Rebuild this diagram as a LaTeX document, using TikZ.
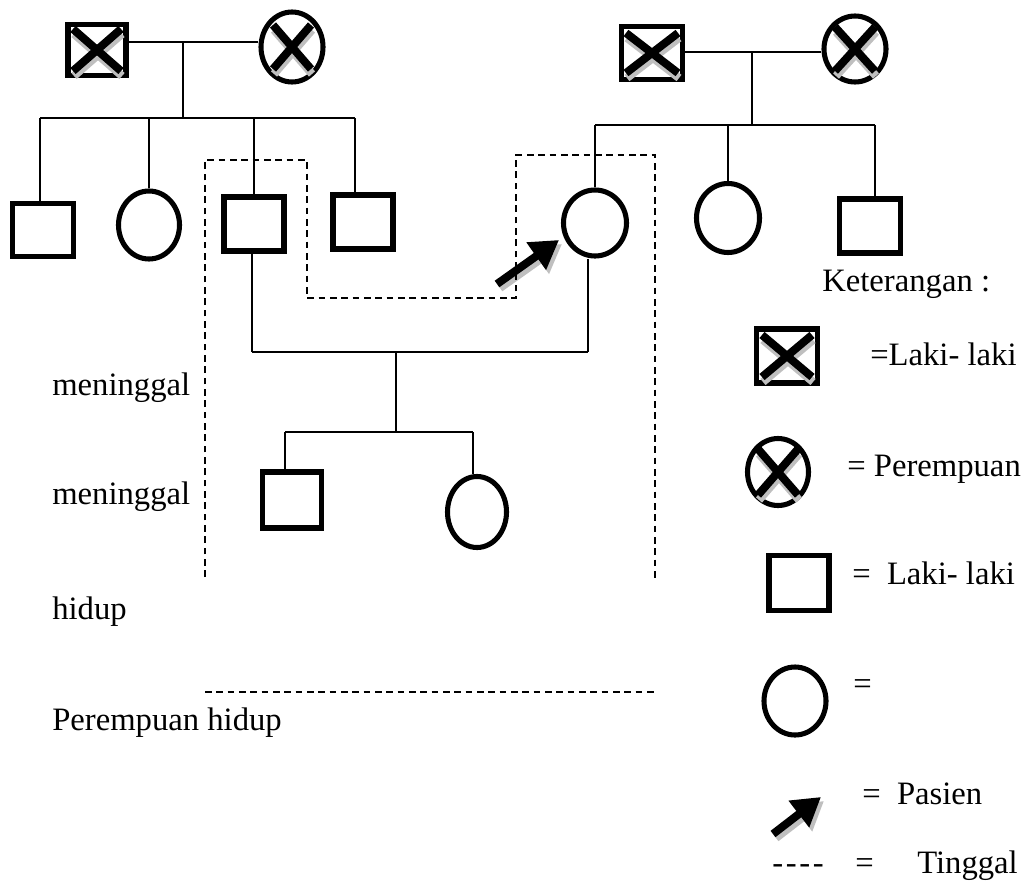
\documentclass[tikz,border=0pt]{standalone}
\usepackage{fontspec}
\setmainfont{Liberation Serif}
\usetikzlibrary{arrows.meta,shapes.geometric,calc}
\newcommand\pedX[3]{%
  \draw[gray!50, line width=6pt] ($(#1)+(-#2+1,-#3+5)$) -- ($(#1)+(#2+1,#3+5)$) ($(#1)+(#2+1,-#3+5)$) -- ($(#1)+(-#2+1,#3+5)$);
  \draw[black, line width=6pt] ($(#1)+(-#2,-#3)$) -- ($(#1)+(#2,#3)$) ($(#1)+(#2,-#3)$) -- ($(#1)+(-#2,#3)$);}
\newcommand\pedArrow[2]{%
  \draw[gray!50, line width=6pt, -{Triangle[length=21pt,width=24pt]}] ($(#1)+(3,4)$) -- ($(#2)+(3,4)$);
  \draw[black, line width=6pt, -{Triangle[length=21pt,width=24pt]}] (#1) -- (#2);}
\begin{document}
\begin{tikzpicture}[x=0.75pt,y=-0.75pt,
  link/.style={line width=1.2pt},
  dashline/.style={line width=1.1pt, dash pattern=on 5pt off 3.5pt},
  sq/.style 2 args={draw, rectangle, line width=3.8pt, inner sep=0pt, minimum width=#1*0.75pt, minimum height=#2*0.75pt},
  circ/.style 2 args={draw, ellipse, line width=3.8pt, inner sep=0pt, minimum width=#1*0.75pt, minimum height=#2*0.75pt},
  lbl/.style={anchor=base west, inner sep=0pt, font=\fontsize{24.5}{29}\selectfont}
]
\useasboundingbox (0,0) rectangle (1024,885);

% ---------- left family ----------
\node[sq={58}{51}] (gf1) at (97,50) {};
\node[circ={62}{70}] (gm1) at (292,47) {};
\pedX{gf1}{24}{21}
\pedX{gm1}{19}{22}
\coordinate (m1) at (183,42);
\coordinate (s1) at (183,118);
\coordinate (s1L) at (40,118);
\coordinate (s1R) at (355,118);
\draw[link] (gf1.east |- m1) -- (gm1.west |- m1);
\draw[link] (m1) -- (s1);
\draw[link] (s1L) -- (s1R);

\node[sq={61}{53}] (c11) at (43,230) {};
\node[circ={61}{68}] (c12) at (149,225) {};
\node[sq={60}{54}] (c13) at (254,224) {};
\node[sq={60}{54}] (c14) at (363,222) {};
\draw[link] (s1L) -- (s1L |- c11.north);
\draw[link] (c12.north |- s1) -- (c12.north);
\draw[link] (c13.north |- s1) -- (c13.north);
\draw[link] (s1R) -- (s1R |- c14.north);

% ---------- right family ----------
\node[sq={61}{53}] (gf2) at (652,53) {};
\node[circ={62}{66}] (gm2) at (855,49) {};
\pedX{gf2}{26}{20}
\pedX{gm2}{20}{22}
\coordinate (m2) at (752,52);
\coordinate (s2) at (752,125);
\coordinate (s2L) at (595,125);
\coordinate (s2R) at (875,125);
\draw[link] (gf2.east |- m2) -- (gm2.west |- m2);
\draw[link] (m2) -- (s2);
\draw[link] (s2L) -- (s2R);

\node[circ={63}{66}] (pt) at (595,223) {};
\node[circ={63}{69}] (c22) at (728,218) {};
\node[sq={61}{54}] (c23) at (870,226) {};
\draw[link] (s2L) -- (pt.north);
\draw[link] (c22.north |- s2) -- (c22.north);
\draw[link] (s2R) -- (s2R |- c23.north);

% ---------- couple and children ----------
\coordinate (cpL) at (252,352);
\coordinate (cpR) at (588,352);
\coordinate (cpM) at (396,352);
\coordinate (s3) at (396,432);
\coordinate (s3L) at (285,432);
\coordinate (s3R) at (473,432);
\draw[link] (c13.south -| cpL) -- (cpL);
\draw[link] (pt.south -| cpR) -- (cpR);
\draw[link] (cpL) -- (cpR);
\draw[link] (cpM) -- (s3);
\draw[link] (s3L) -- (s3R);
\node[sq={59}{56}] (g1) at (292,500) {};
\node[circ={59}{71}] (g2) at (477,512) {};
\draw[link] (s3L) -- (s3L |- g1.north);
\draw[link] (s3R) -- (s3R |- g2.north);

% patient arrow
\coordinate (a1t) at (497,284);
\coordinate (a1h) at (559,240);
\pedArrow{a1t}{a1h}

% dashed household boundary
\draw[dashline] (205,577) -- (205,160) -- (307,160) -- (307,298) -- (516,298) -- (516,155) -- (655,155) -- (655,582);
\draw[dashline] (205,692) -- (655,692);

% left labels
\node[lbl] (t1) at (52,395) {meninggal};
\node[lbl] (t2) at (52,504) {meninggal};
\node[lbl] (t3) at (52,619) {hidup};
\node[lbl] (t4) at (52,730) {Perempuan hidup};

% ---------- legend ----------
\node[lbl] (kt) at (822,291) {Keterangan :};
\node[sq={61}{54}] (lg1) at (787,356) {};
\pedX{lg1}{25}{21}
\node[lbl] (lt1) at (870,365) {=Laki- laki};
\node[circ={61}{67}] (lg2) at (778,472) {};
\pedX{lg2}{20}{23}
\node[lbl] (lt2) at (847,476) {= Perempuan};
\node[sq={60}{55}] (lg3) at (799,583) {};
\node[lbl] (lt3) at (852,584) {=\ \ Laki- laki};
\node[circ={62}{68}] (lg4) at (795,701) {};
\node[lbl] (lt4) at (853,694) {=};
\coordinate (a2t) at (773,834);
\coordinate (a2h) at (821,797);
\pedArrow{a2t}{a2h}
\node[lbl] (lt5) at (862,804) {=\ \ Pasien};
\node[lbl] (lt6) at (772,873) {-\kern2pt-\kern2pt-\kern2pt-};
\node[lbl] (lt7) at (855,873) {=};
\node[lbl] (lt8) at (917,873) {Tinggal};
\end{tikzpicture}
\end{document}
